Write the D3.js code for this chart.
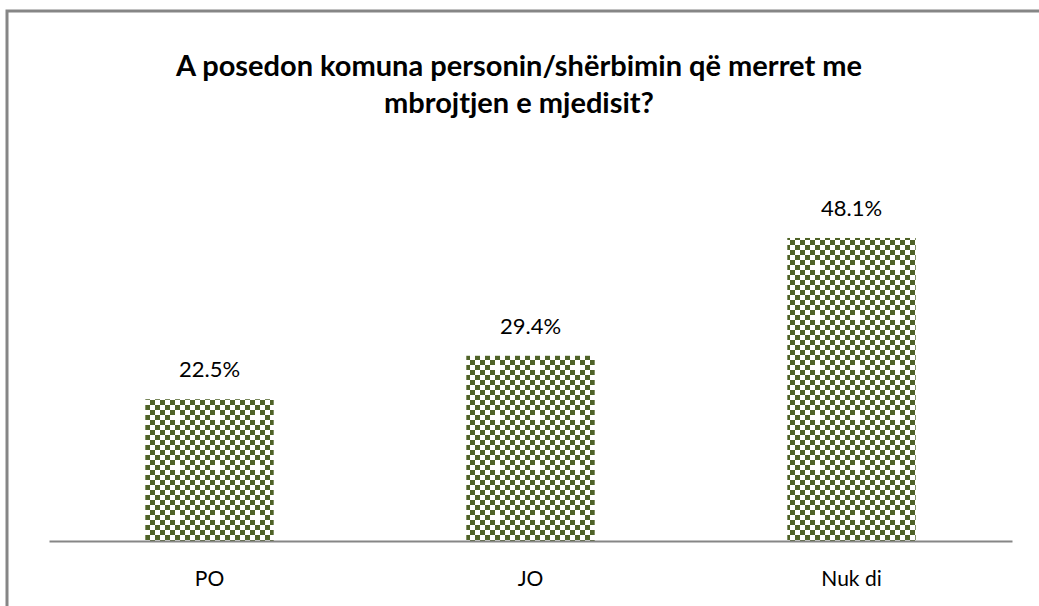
<!DOCTYPE html>
<html>
<head>
<meta charset="utf-8">
<script src="https://cdn.jsdelivr.net/npm/d3@7"></script>
<style>
  body { margin: 0; background: #fff; }
  svg { display: block; font-family: Lato, "Open Sans", sans-serif; }
</style>
</head>
<body>
<div id="canvas"></div>
<script>
const categories = ["PO", "JO", "Nuk di"];
const values = [22.5, 29.4, 48.1];
const titleLines = ["A posedon komuna personin/shërbimin që merret me", "mbrojtjen e mjedisit?"];

const width = 1039;
const height = 606;
const margin = { top: 163, left: 49, bottom: 65, right: 27 };
const baseY = height - margin.bottom;

const svg = d3.select("#canvas").append("svg")
    .attr("width", width).attr("height", height);

// checkerboard fill with a few gaps, like the Excel pattern
const cell = 5;
const defs = svg.append("defs");
const pat = defs.append("pattern")
    .attr("id", "checks")
    .attr("patternUnits", "userSpaceOnUse")
    .attr("width", cell * 8).attr("height", cell * 10);
pat.append("rect").attr("width", cell * 8).attr("height", cell * 10).attr("fill", "#fff");
const holes = [[3, 3], [7, 8]];
for (let r = 0; r < 10; r++) {
    for (let c = 0; c < 8; c++) {
        if ((r + c) % 2 !== 0) continue;
        if (holes.some(h => h[0] === c && h[1] === r)) continue;
        pat.append("rect").attr("x", c * cell).attr("y", r * cell)
            .attr("width", cell).attr("height", cell).attr("fill", "#4f6228");
    }
}

// chart area border (left and top visible)
svg.append("path")
    .attr("d", `M7,${height} V11 H${width}`)
    .attr("fill", "none").attr("stroke", "#868686").attr("stroke-width", 3);

const x = d3.scaleBand()
    .domain(categories)
    .range([margin.left, width - margin.right]);

const y = d3.scaleLinear()
    .domain([0, 60])
    .range([baseY, margin.top]);

const barW = x.bandwidth() * 0.4;

svg.selectAll("rect.bar").data(values).enter()
    .append("rect")
    .attr("class", "bar")
    .attr("x", (d, i) => x(categories[i]) + (x.bandwidth() - barW) / 2)
    .attr("y", d => y(d))
    .attr("width", barW)
    .attr("height", d => baseY - y(d))
    .attr("fill", "url(#checks)");

svg.selectAll("text.val").data(values).enter()
    .append("text")
    .attr("class", "val")
    .attr("x", (d, i) => x(categories[i]) + x.bandwidth() / 2)
    .attr("y", d => y(d) - 22)
    .attr("text-anchor", "middle")
    .attr("font-size", 22)
    .attr("fill", "#000")
    .text(d => d.toFixed(1) + "%");

const xAxis = svg.append("g")
    .attr("transform", `translate(0,${baseY})`)
    .call(d3.axisBottom(x).tickSize(0).tickPadding(30));
xAxis.select(".domain").attr("stroke", "#868686").attr("stroke-width", 2);
xAxis.selectAll("text").attr("font-size", 21).attr("fill", "#000")
    .style("font-family", "Lato, \"Open Sans\", sans-serif");

svg.append("text")
    .attr("x", 519).attr("y", 76)
    .attr("text-anchor", "middle")
    .attr("font-size", 29).attr("font-weight", "bold")
    .selectAll("tspan").data(titleLines).enter()
    .append("tspan")
    .attr("x", 519)
    .attr("dy", (d, i) => i === 0 ? 0 : 37)
    .text(d => d);
</script>
</body>
</html>
